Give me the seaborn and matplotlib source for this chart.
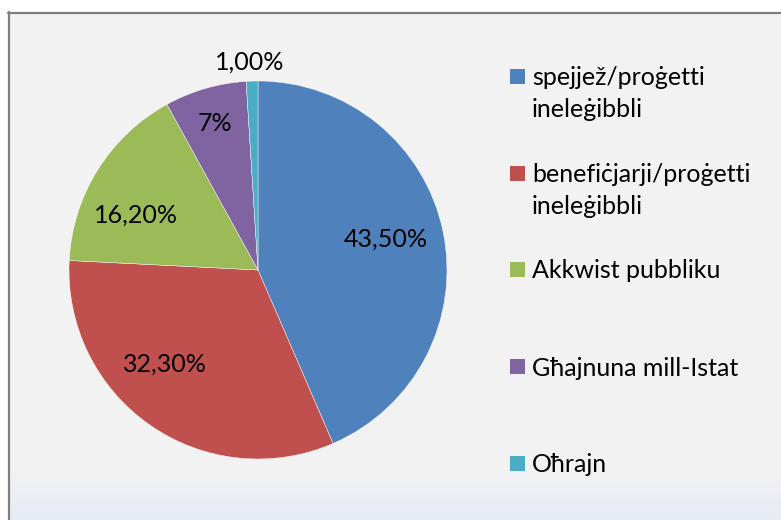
import numpy as np
import matplotlib
matplotlib.use("Agg")
import matplotlib.pyplot as plt
import seaborn as sns
from matplotlib.patches import Rectangle
from matplotlib.lines import Line2D
from matplotlib.colors import to_rgb

# ---- data ----
categories = ["spejjež/proġetti\nineleġibbli",
              "benefiċjarji/proġetti\nineleġibbli",
              "Akkwist pubbliku",
              "Għajnuna mill-Istat",
              "Oħrajn"]
values = [43.5, 32.3, 16.2, 7.0, 1.0]
value_labels = ["43,50%", "32,30%", "16,20%", "7%", "1,00%"]

# ---- style / layout ----
colors = ["#4F81BD", "#C0504D", "#9BBB59", "#8064A2", "#4BACC6"]
label_dist = [0.70, 0.69, 0.715, 0.82, 1.11]
label_angle_shift = [2.7, -10.6, 7.1, 0.0, 0.4]
legend_y = [76, 173.5, 269.5, 366.5, 463.5]  # pixel centres of legend squares

sns.set_theme(style="white")
plt.rcParams['font.family'] = ['Lato', 'DejaVu Sans']

W, H = 781, 520
fig = plt.figure(figsize=(W / 100, H / 100), dpi=100)
fig.patch.set_facecolor("white")

# background panel with gradient at bottom
bg = fig.add_axes([8 / W, 0, 1 - 8 / W, (H - 12) / H])
bg.set_axis_off()
n = H - 12
rows = np.arange(n) + 12
top = np.array(to_rgb("#f2f2f2"))
bot = np.array(to_rgb("#e6ebf5"))
t = np.clip((rows - 470) / (H - 470), 0, 1)
grad = top[None, :] * (1 - t[:, None]) + bot[None, :] * t[:, None]
bg.imshow(grad[:, None, :], aspect='auto', extent=[0, 1, 0, 1], origin='upper')

fig.add_artist(Line2D([8 / W, 1], [1 - 12.8 / H] * 2, color='#7f7f7f', lw=1.6,
                      transform=fig.transFigure))
fig.add_artist(Line2D([8.8 / W] * 2, [0, 1 - 12 / H], color='#7f7f7f', lw=1.6,
                      transform=fig.transFigure))

# pie
cx, cy, R = 258, 270, 189
ax = fig.add_axes([(cx - R) / W, (H - cy - R) / H, 2 * R / W, 2 * R / H])
wedges, texts, autotexts = ax.pie(
    values, colors=colors, startangle=90, counterclock=False,
    autopct="%1.1f", pctdistance=0.7,
    wedgeprops=dict(edgecolor='white', linewidth=0.3),
    textprops=dict(fontsize=18, color='black'))
ax.set_xlim(-1, 1)
ax.set_ylim(-1, 1)
ax.set_axis_off()
for w, at, lab, d, sh in zip(wedges, autotexts, value_labels, label_dist, label_angle_shift):
    mid = np.deg2rad((w.theta1 + w.theta2) / 2 + sh)
    at.set_text(lab)
    at.set_position((d * np.cos(mid), d * np.sin(mid)))
    at.set_ha('center')
    at.set_va('center_baseline')

# legend (drawn manually to match layout)
for lab, col, yc in zip(categories, colors, legend_y):
    fig.add_artist(Rectangle((510 / W, 1 - (yc + 7.5) / H), 15 / W, 15 / H,
                             facecolor=col, edgecolor='none', transform=fig.transFigure))
    for j, line in enumerate(lab.split("\n")):
        fig.text(532 / W, 1 - (yc + 9 + 32 * j) / H, line, fontsize=18,
                 ha='left', va='baseline', color='black')

fig.savefig("out.png", dpi=100, facecolor=fig.get_facecolor())
